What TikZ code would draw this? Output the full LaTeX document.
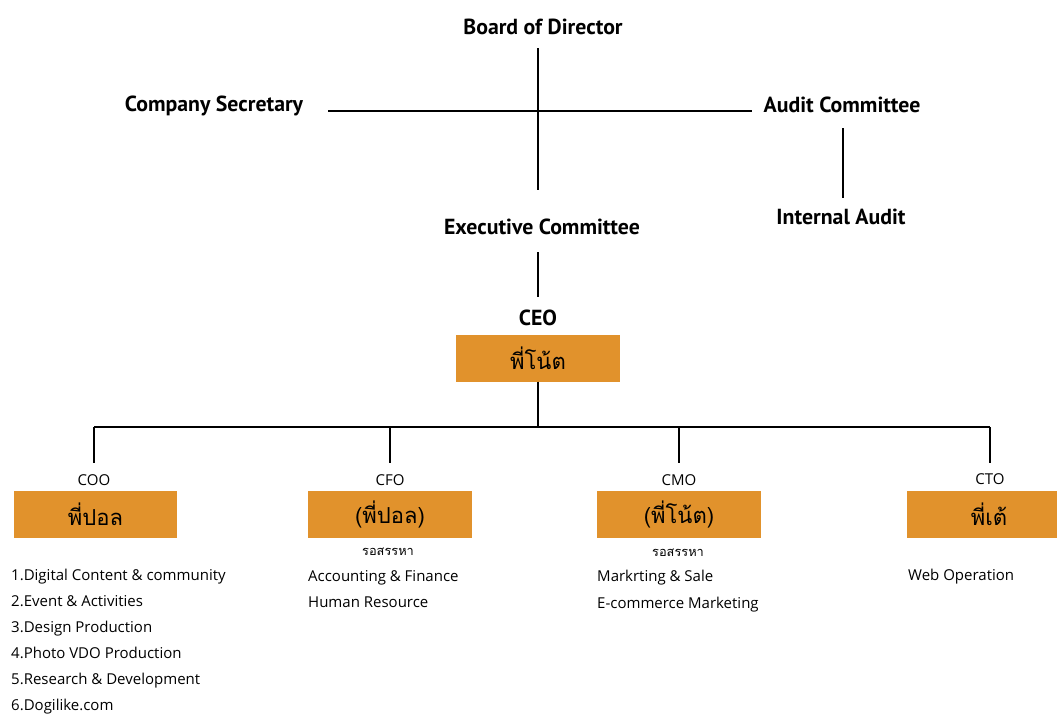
\documentclass[tikz,border=0pt]{standalone}
\usepackage{fontspec}
\setmainfont{Open Sans}
\newfontfamily\headfont{PT Sans}
\newfontfamily\thai[Script=Thai]{Loma}
\definecolor{boxorange}{RGB}{225,146,44}
\begin{document}
\begin{tikzpicture}[x=1pt,y=-1pt,
  head/.style={font=\headfont\bfseries\fontsize{21.8}{24}\selectfont, inner sep=0pt},
  role/.style={font=\fontsize{15}{18}\selectfont, inner sep=0pt},
  obox/.style={fill=boxorange, minimum width=164pt, minimum height=47pt, inner sep=0pt, font=\thai\fontsize{22}{26}\selectfont},
  item/.style={anchor=west, font=\fontsize{15}{18}\selectfont, inner sep=0pt, text height=11pt, text depth=3pt},
  recruit/.style={font=\thai\fontsize{12.8}{15}\selectfont, inner sep=0pt},
  conn/.style={line width=2.2pt}]
\useasboundingbox (0,0) rectangle (1057,715);
\clip (0,0) rectangle (1057,715);
\fill[white] (0,0) rectangle (1057,715);

% top level
\node[head] (bod) at (543,27) {Board of Director};
\node[head] (sec) at (214,106) {Company Secretary};
\node[head] (aud) at (842,105) {Audit Committee};
\node[head] (ia) at (841,217) {Internal Audit};
\node[head] (exec) at (542,227) {Executive Committee};
\node[head] (ceolbl) at (538,318) {CEO};
\node[obox] (ceo) at (538,358) {พี่โน้ต};

\coordinate (v1) at (538,48);
\coordinate (v2) at (538,190);
\coordinate (h1) at (328,111);
\coordinate (h2) at (752,111);
\coordinate (a1) at (843,128);
\coordinate (a2) at (843,198);
\coordinate (e1) at (538,252);
\coordinate (e2) at (538,297);
\draw[conn] (v1) -- (v2);
\draw[conn] (h1) -- (h2);
\draw[conn] (a1) -- (a2);
\draw[conn] (e1) -- (e2);

% branch
\coordinate (hub) at (538,427);
\coordinate (hl) at (94,427);
\coordinate (hr) at (990,427);
\coordinate (cfoT) at (390,427);
\coordinate (cmoT) at (679,427);
\coordinate (cooE) at (94,463);
\coordinate (cfoE) at (390,463);
\coordinate (cmoE) at (679,463);
\coordinate (ctoE) at (990,463);
\draw[conn] (ceo.south) -- (hub);
\draw[conn] (hl) -- (hr);
\draw[conn] (hl) -- (cooE);
\draw[conn] (cfoT) -- (cfoE);
\draw[conn] (cmoT) -- (cmoE);
\draw[conn] (hr) -- (ctoE);

% COO
\node[role] (coolbl) at (94,480) {COO};
\node[obox, minimum width=163pt] (coo) at (95.5,514.5) {พี่ปอล};
\node[item] (c1) at (11,576) {1.Digital Content \& community};
\node[item] (c2) at (11,602) {2.Event \& Activities};
\node[item] (c3) at (11,628) {3.Design Production};
\node[item] (c4) at (11,654) {4.Photo VDO Production};
\node[item] (c5) at (11,680) {5.Research \& Development};
\node[item] (c6) at (11,706) {6.Dogilike.com};

% CFO
\node[role] (cfolbl) at (390,480) {CFO};
\node[obox] (cfo) at (390,514.5) {(พี่ปอล)};
\node[recruit] (cfor) at (388,552) {รอสรรหา};
\node[item] (f1) at (308,577) {Accounting \& Finance};
\node[item] (f2) at (308,603) {Human Resource};

% CMO
\node[role] (cmolbl) at (679,480) {CMO};
\node[obox] (cmo) at (679,514.5) {(พี่โน้ต)};
\node[recruit] (cmor) at (678,553) {รอสรรหา};
\node[item] (m1) at (597,577) {Markrting \& Sale};
\node[item] (m2) at (597,604) {E-commerce Marketing};

% CTO
\node[role] (ctolbl) at (990,479) {CTO};
\node[obox] (cto) at (989,514.5) {พี่เต้};
\node[item] (t1) at (908,576) {Web Operation};
\end{tikzpicture}
\end{document}
